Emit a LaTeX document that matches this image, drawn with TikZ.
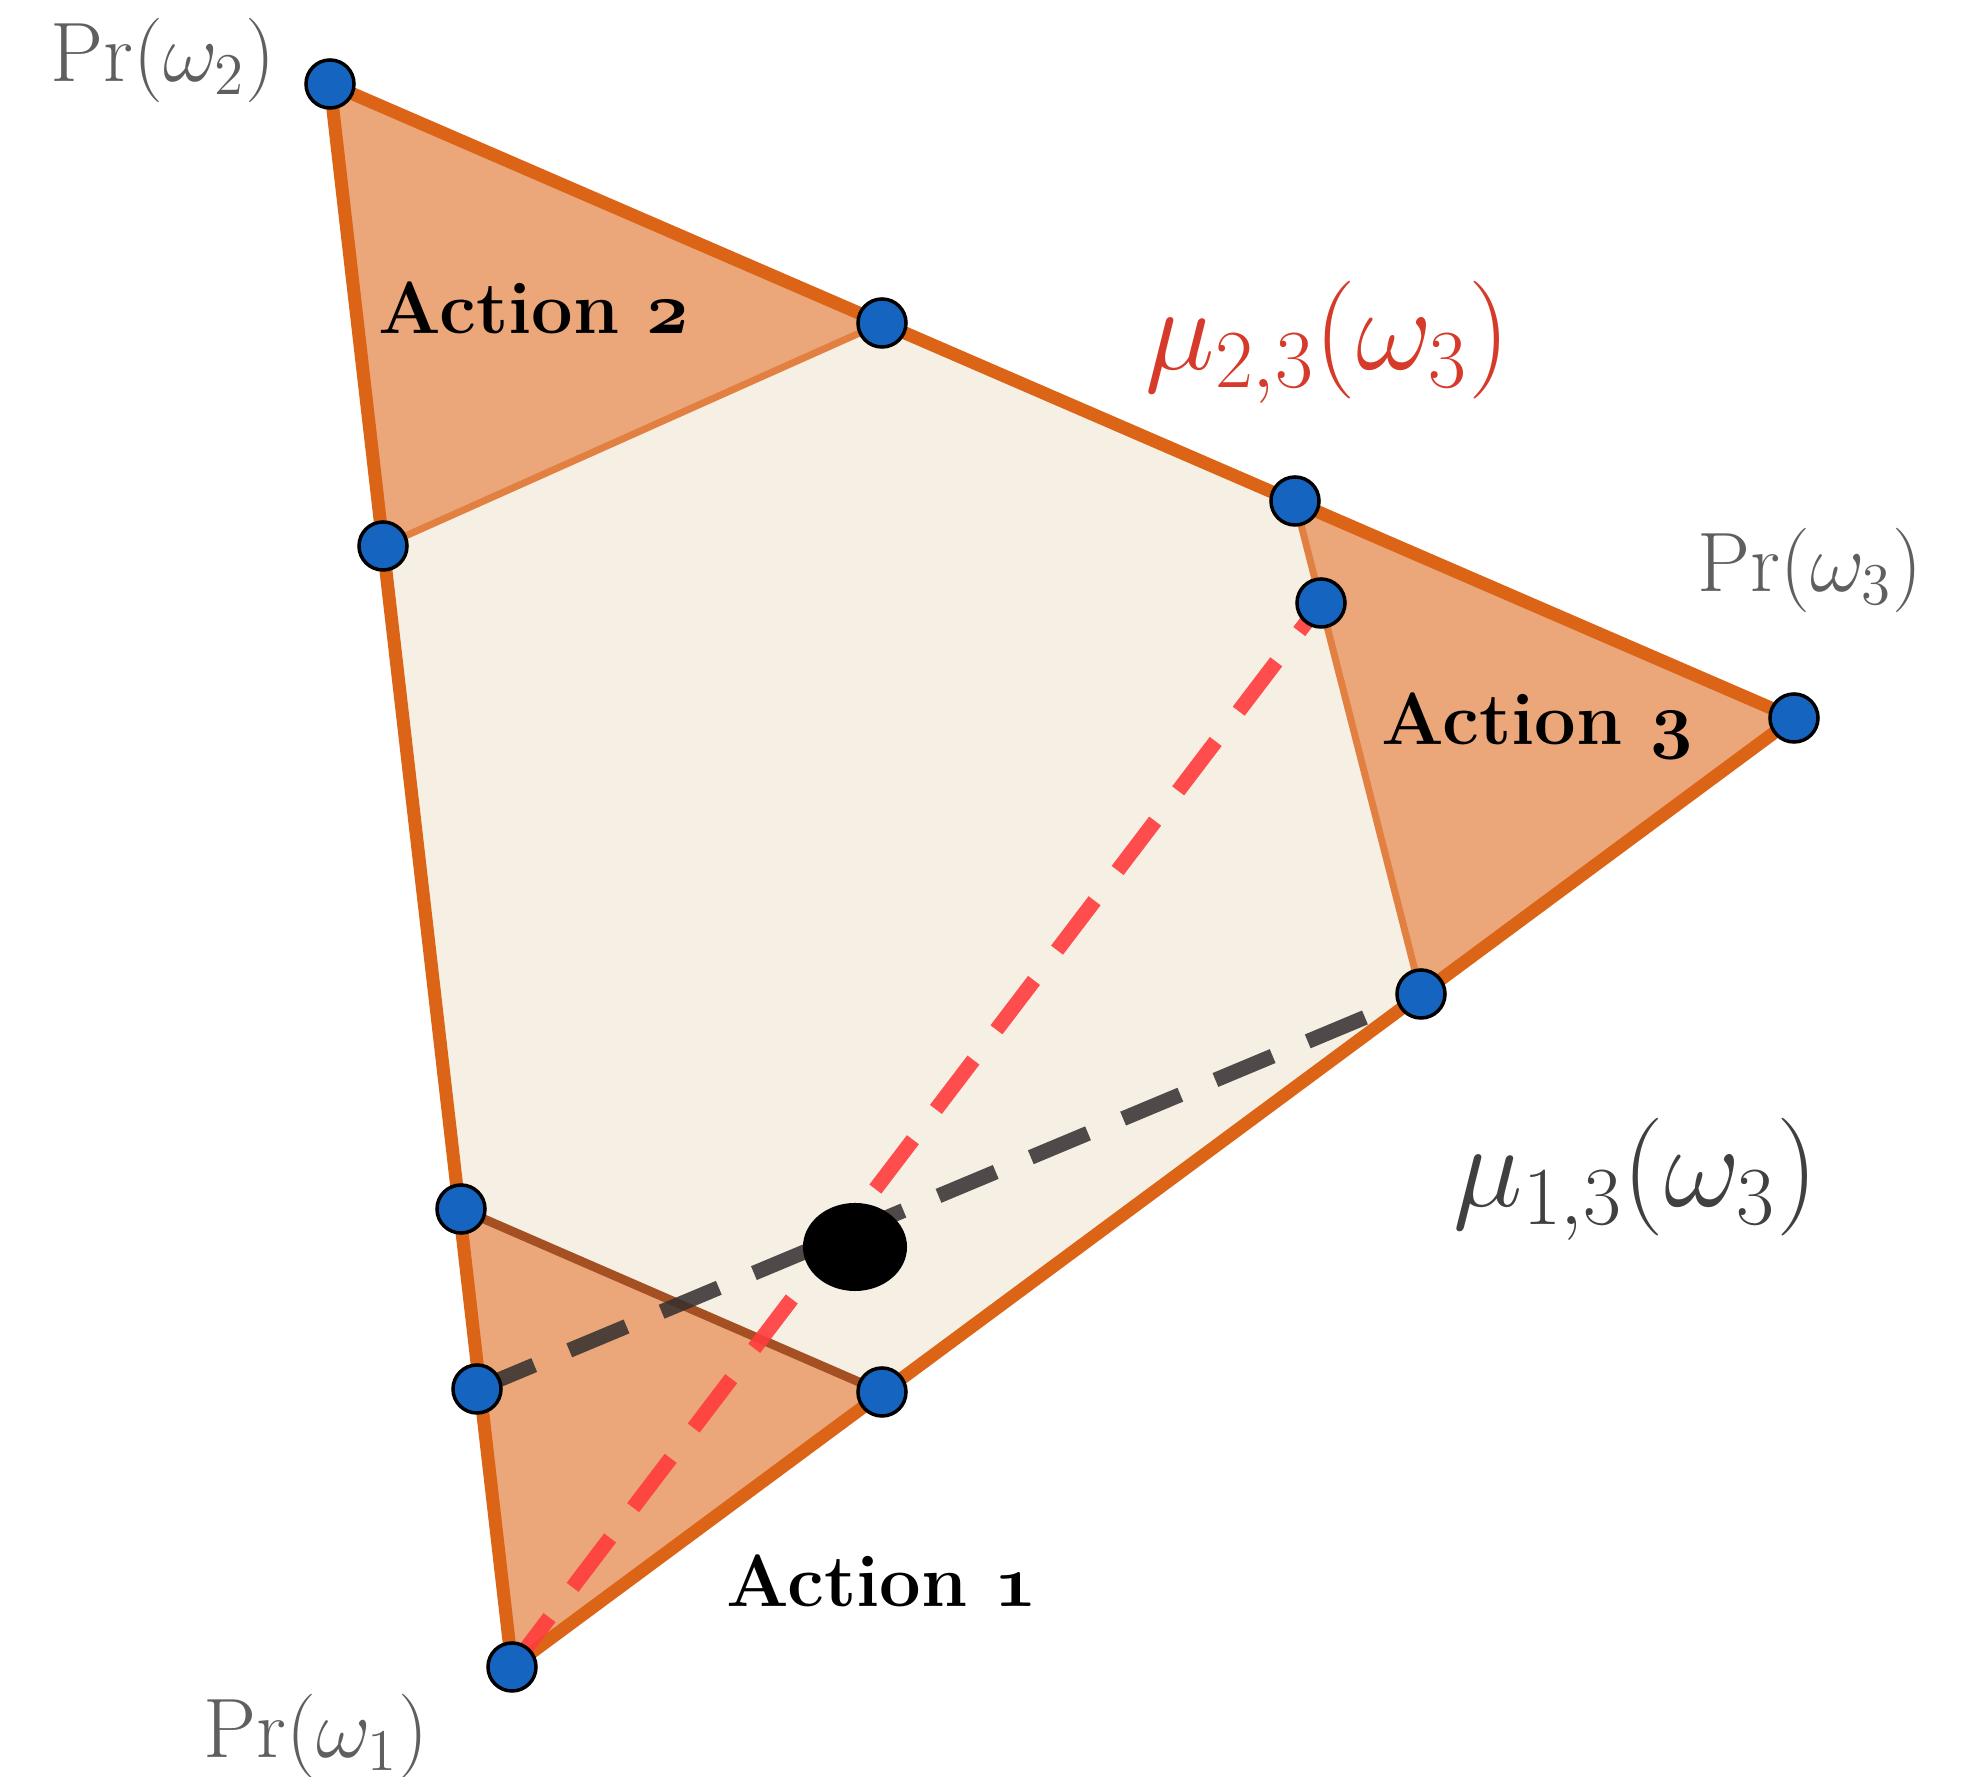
\RequirePackage{fix-cm}
\documentclass[tikz,border=0pt]{standalone}
\definecolor{edgeor}{RGB}{219,100,22}
\definecolor{cornerfill}{RGB}{235,167,122}
\definecolor{interiorfill}{RGB}{246,239,228}
\definecolor{divor}{RGB}{226,128,66}
\definecolor{divbrown}{RGB}{165,80,34}
\definecolor{ptblue}{RGB}{21,101,192}
\definecolor{dashred}{RGB}{255,60,60}
\definecolor{dashgray}{RGB}{50,46,46}
\definecolor{labelgray}{RGB}{95,95,95}
\definecolor{mugray}{RGB}{64,64,64}
\definecolor{mured}{RGB}{214,58,42}
\usetikzlibrary{shapes.geometric}
\newcommand{\osnum}[1]{{\usefont{OML}{cmm}{b}{it}#1}}
\begin{document}
\begin{tikzpicture}[x=0.01cm,y=-0.01cm,
  edgeline/.style={draw=edgeor,line width=0.13cm,line join=round},
  divline/.style={draw=divor,line width=0.07cm},
  divlineone/.style={draw=divbrown,line width=0.09cm},
  cornerarea/.style={fill=cornerfill},
  reddash/.style={draw=dashred,opacity=0.9,line width=0.15cm,dash pattern=on 0.62cm off 0.38cm},
  graydash/.style={draw=dashgray,opacity=0.85,line width=0.15cm,dash pattern=on 0.62cm off 0.38cm},
  bluept/.style={circle,fill=ptblue,draw=black,line width=0.035cm,minimum size=0.48cm,inner sep=0pt},
  blackdot/.style={ellipse,fill=black,minimum width=1.04cm,minimum height=0.88cm,inner sep=0pt},
  prlabel/.style={anchor=base west,text=labelgray,inner sep=0pt,font=\fontsize{24}{29}\selectfont},
  mulabel/.style={anchor=base west,inner sep=0pt,font=\fontsize{33.5}{40}\selectfont},
  actlabel/.style={anchor=base west,inner sep=0pt,font=\fontsize{21}{25}\selectfont\bfseries}
]
\fill[white] (0,0) rectangle (1968,1777);
\useasboundingbox (0,0) rectangle (1968,1777);
% vertices and points
\coordinate (a1) at (512,1667);
\coordinate (a2) at (330,84);
\coordinate (a3) at (1794,718);
\coordinate (t1) at (882,323);
\coordinate (l1) at (383,546);
\coordinate (t2) at (1295,501);
\coordinate (pin) at (1321,603);
\coordinate (r1) at (1421,994);
\coordinate (l2) at (461,1209);
\coordinate (l3) at (477,1389);
\coordinate (b1) at (882,1392);
% fills
\fill[interiorfill] (a1) -- (a2) -- (a3) -- cycle;
\fill[cornerarea] (a2) -- (t1) -- (l1) -- cycle;
\fill[cornerarea] (t2) -- (a3) -- (r1) -- cycle;
\fill[cornerarea] (l2) -- (b1) -- (a1) -- cycle;
% dividers
\draw[divline] (t1) -- (l1);
\draw[divline] (t2) -- (r1);
\draw[divlineone] (l2) -- (b1);
% outer edges
\draw[edgeline] (a1) -- (a2) -- (a3) -- cycle;
% dashed lines
\draw[reddash] (a1) -- (pin);
\draw[graydash] (l3) -- (r1);
% black dot
\node[blackdot] (dot) at (855,1247) {};
% blue points
\node[bluept] (pa1) at (a1) {};
\node[bluept] (pa2) at (a2) {};
\node[bluept] (pa3) at (a3) {};
\node[bluept] (pt1) at (t1) {};
\node[bluept] (pl1) at (l1) {};
\node[bluept] (pt2) at (t2) {};
\node[bluept] (ppin) at (pin) {};
\node[bluept] (pr1) at (r1) {};
\node[bluept] (pl2) at (l2) {};
\node[bluept] (pl3) at (l3) {};
\node[bluept] (pb1) at (b1) {};
% labels
\node[prlabel] (lab2) at (50,82) {$\Pr(\omega_2)$};
\node[prlabel] (lab3) at (1697,592) {$\Pr(\omega_3)$};
\node[prlabel] (lab1) at (203,1758) {$\Pr(\omega_1)$};
\node[mulabel,text=mured] (mu23) at (1145,370) {$\mu_{2,3}(\omega_3)$};
\node[mulabel,text=mugray] (mu13) at (1453,1207) {$\mu_{1,3}(\omega_3)$};
\node[actlabel] (act2) at (378,334) {Action \osnum{2}};
\node[actlabel] (act3) at (1381,745) {Action \osnum{3}};
\node[actlabel] (act1) at (726,1607) {Action \osnum{1}};
\end{tikzpicture}
\end{document}
